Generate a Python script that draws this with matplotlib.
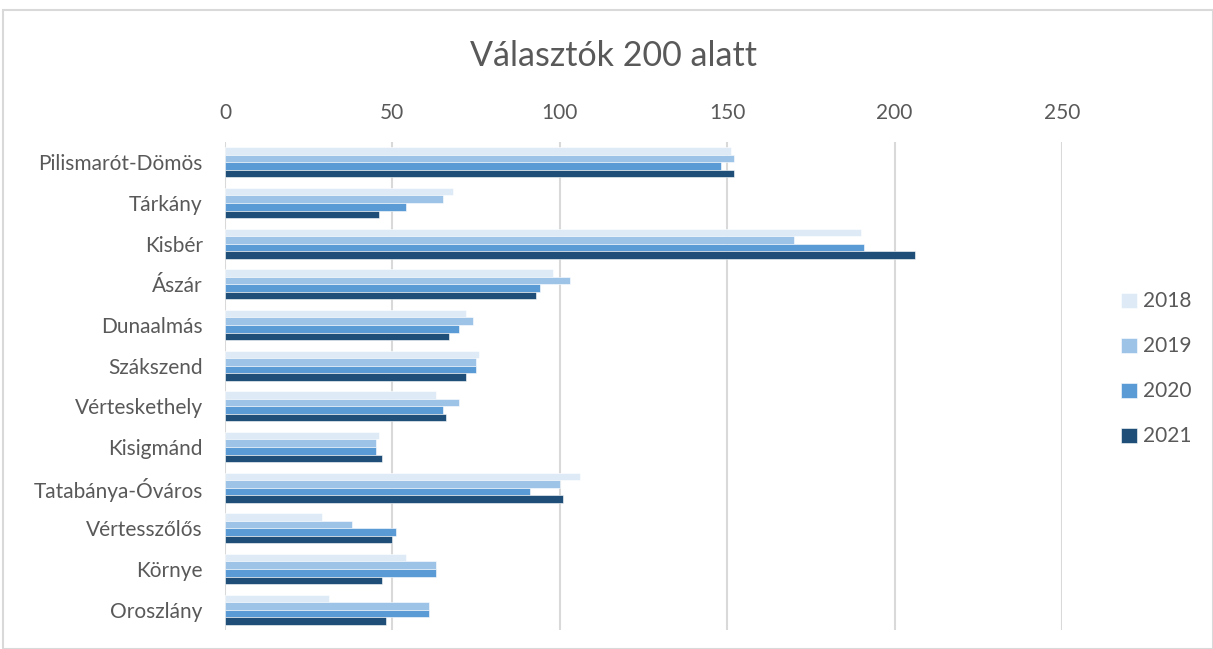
## Horizontal grouped bar chart: voters under 200
import numpy as np
import matplotlib.pyplot as plt
from matplotlib.patches import Rectangle

plt.rcParams['font.family'] = ['Lato', 'DejaVu Sans']

## Data
telepules = ['Pilismarót-Dömös', 'Tárkány', 'Kisbér', 'Ászár', 'Dunaalmás', 'Szákszend',
             'Vérteskethely', 'Kisigmánd', 'Tatabánya-Óváros', 'Vértesszőlős', 'Környe', 'Oroszlány']
ev = ['2018', '2019', '2020', '2021']
v2018 = [151, 68, 190, 98, 72, 76, 63, 46, 106, 29, 54, 31]
v2019 = [152, 65, 170, 103, 74, 75, 70, 45, 100, 38, 63, 61]
v2020 = [148, 54, 191, 94, 70, 75, 65, 45, 91, 51, 63, 61]
v2021 = [152, 46, 206, 93, 67, 72, 66, 47, 101, 50, 47, 48]
szinek = ['#DEEBF7', '#9DC3E6', '#5B9BD5', '#1F4E79']
szoveg = '#595959'

fig = plt.figure(figsize=(12.13, 6.49), dpi=100)
ax = fig.add_axes([225/1213, 1 - 630/649, (1062-225)/1213, (630-142)/649])

# Chart border
fig.patches.append(Rectangle((3/1213, 0), 1 - 3/1213, 1 - 10/649, transform=fig.transFigure,
                             fill=False, edgecolor='#D9D9D9', linewidth=1.5))

y = np.arange(len(telepules))
h = 0.185
for i, (vals, c) in enumerate(zip([v2018, v2019, v2020, v2021], szinek)):
    ax.barh(y + (i - 1.5) * h, vals, height=h, color=c, edgecolor='white', linewidth=0.4,
            label=ev[i], zorder=3)

ax.set_xlim(0, 250)
ax.set_ylim(len(telepules) - 0.5, -0.5)
ax.set_xticks(np.arange(0, 251, 50))
ax.set_yticks(y)
ax.set_yticklabels(telepules)
ax.xaxis.tick_top()
ax.tick_params(axis='y', length=0, labelsize=15, colors=szoveg, pad=16)
ax.tick_params(axis='x', length=0, labelsize=15, colors=szoveg, pad=14)
ax.grid(axis='x', color='#D9D9D9', linewidth=1.5, zorder=0)
for s in ax.spines.values():
    s.set_visible(False)

fig.text(613/1213, 1 - 56/649, 'Választók 200 alatt', ha='center', va='center',
         fontsize=24.5, color=szoveg)

leg = ax.legend(loc='center left', bbox_to_anchor=(1.048, 0.535), frameon=False, fontsize=15,
                labelcolor=szoveg, handlelength=0.75, handleheight=0.75, handletextpad=0.3,
                labelspacing=1.2)

fig.savefig('out.png', dpi=100)
